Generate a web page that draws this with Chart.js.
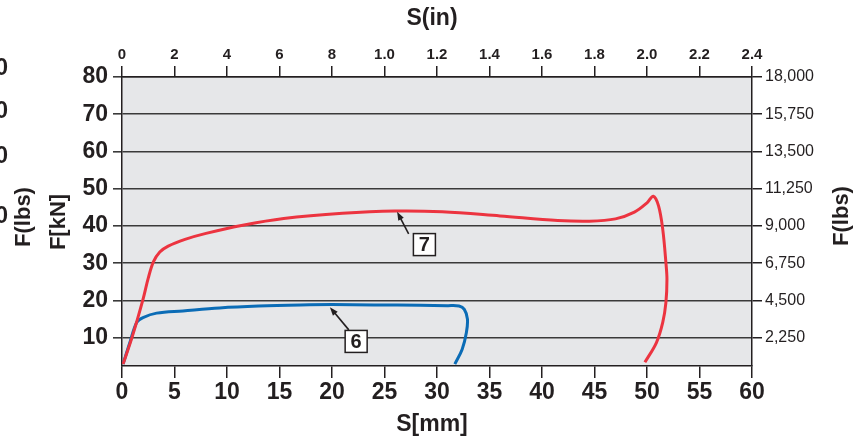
<!DOCTYPE html>
<html>
<head>
<meta charset="utf-8">
<script src="https://cdn.jsdelivr.net/npm/chart.js@4.4.1/dist/chart.umd.min.js"></script>
<style>
  html, body { margin: 0; padding: 0; background: #ffffff; }
  #wrap { width: 864px; height: 438px; position: relative; }
</style>
</head>
<body>
<div id="wrap"><canvas id="forceChart"></canvas></div>
<script>
// Curve 7 (red) - S[mm] vs F[kN]
const red7X = [0.1, 1.0, 2.0, 2.5, 3.0, 3.6, 4.4, 6.0, 8.0, 11.5, 15.4, 21.0, 26.0, 30.5, 36.0, 41.5, 44.5, 47.0, 48.8, 50.0, 50.6, 51.1, 51.5, 51.8, 51.9, 51.8, 51.5, 50.9, 49.8];
const red7Y = [2.9, 10.5, 20.3, 26.0, 30.4, 33.0, 34.6, 36.4, 38.0, 40.2, 42.0, 43.4, 44.0, 43.8, 42.7, 41.5, 41.3, 41.9, 43.7, 46.2, 48.0, 45.4, 39.1, 30.2, 25.7, 19.4, 14.1, 8.7, 3.4];

// Curve 6 (blue)
const blue6X = [0.1, 0.75, 1.4, 2.0, 3.3, 5.8, 9.3, 13.0, 17.0, 20.0, 24.0, 28.4, 31.0, 32.1, 32.6, 32.9, 32.8, 32.4, 31.7];
const blue6Y = [2.9, 8.7, 14.1, 15.4, 16.6, 17.2, 18.0, 18.5, 18.8, 18.9, 18.8, 18.7, 18.6, 18.5, 17.6, 15.0, 11.4, 6.9, 2.9];

// Axis ticks
const mmTicks = [0, 5, 10, 15, 20, 25, 30, 35, 40, 45, 50, 55, 60];
const inTicks = [0, 0.2, 0.4, 0.6, 0.8, 1.0, 1.2, 1.4, 1.6, 1.8, 2.0, 2.2, 2.4];
const inLabels = ['0', '2', '4', '6', '8', '1.0', '1.2', '1.4', '1.6', '1.8', '2.0', '2.2', '2.4'];
const kNTicks = [10, 20, 30, 40, 50, 60, 70, 80];
const lbsTicks = [2250, 4500, 6750, 9000, 11250, 13500, 15750, 18000];

const FONT = "'Liberation Sans Narrow', 'Liberation Sans', Arial, sans-serif";
const INK = '#231f20';
const yMin = 2.4, yMax = 80;

function toPoints(xs, ys) {
    return xs.map((x, i) => ({ x: x, y: ys[i] }));
}

// grey plot background
const plotBackground = {
    id: 'plotBackground',
    beforeDraw(chart) {
        const { ctx, chartArea: a } = chart;
        ctx.save();
        ctx.fillStyle = '#e6e7e9';
        ctx.fillRect(a.left, a.top, a.right - a.left, a.bottom - a.top);
        ctx.restore();
    }
};

// axis titles and the cut-off text at the left edge
const axisTitles = {
    id: 'axisTitles',
    afterDraw(chart) {
        const ctx = chart.ctx;
        ctx.save();
        ctx.fillStyle = INK;
        ctx.textAlign = 'center';
        ctx.textBaseline = 'middle';
        ctx.font = 'bold 23px ' + FONT;
        ctx.fillText('S(in)', 432, 19);
        ctx.fillText('S[mm]', 432, 425);

        function vertical(text, x, y, font) {
            ctx.save();
            ctx.translate(x, y);
            ctx.rotate(-Math.PI / 2);
            ctx.font = font;
            ctx.fillText(text, 0, 0);
            ctx.restore();
        }
        vertical('F[kN]', 59, 222, 'bold 22px ' + FONT);
        vertical('F(lbs)', 24, 217, 'bold 22px ' + FONT);
        vertical('F(lbs)', 842, 216, 'bold 22px ' + FONT);

        // leftovers of another axis, cropped at the picture edge
        ctx.textAlign = 'right';
        ctx.font = 'bold 23px ' + FONT;
        [69, 112, 157, 217].forEach(y => ctx.fillText('0', 8, y));
        ctx.restore();
    }
};

// numbered callouts with arrows
const callouts = {
    id: 'callouts',
    afterDatasetsDraw(chart) {
        const ctx = chart.ctx;
        const xs = chart.scales.x, ys = chart.scales.y;
        const items = [
            { label: '7', box: [28.8, 35.0], tail: [27.3, 37.9], tip: [26.2, 43.8] },
            { label: '6', box: [22.3, 9.0], tail: [21.6, 12.1], tip: [19.8, 18.2] }
        ];
        ctx.save();
        items.forEach(it => {
            const tx = xs.getPixelForValue(it.tail[0]), ty = ys.getPixelForValue(it.tail[1]);
            const px = xs.getPixelForValue(it.tip[0]), py = ys.getPixelForValue(it.tip[1]);
            const ang = Math.atan2(py - ty, px - tx);
            const head = 9;
            ctx.strokeStyle = INK;
            ctx.fillStyle = INK;
            ctx.lineWidth = 1.6;
            ctx.beginPath();
            ctx.moveTo(tx, ty);
            ctx.lineTo(px - Math.cos(ang) * head * 0.7, py - Math.sin(ang) * head * 0.7);
            ctx.stroke();
            ctx.beginPath();
            ctx.moveTo(px, py);
            ctx.lineTo(px - head * Math.cos(ang - 0.35), py - head * Math.sin(ang - 0.35));
            ctx.lineTo(px - head * Math.cos(ang + 0.35), py - head * Math.sin(ang + 0.35));
            ctx.closePath();
            ctx.fill();

            const bx = xs.getPixelForValue(it.box[0]), by = ys.getPixelForValue(it.box[1]);
            ctx.fillStyle = '#ffffff';
            ctx.fillRect(bx - 11, by - 11, 22, 22);
            ctx.lineWidth = 1.5;
            ctx.strokeRect(bx - 11, by - 11, 22, 22);
            ctx.fillStyle = INK;
            ctx.font = 'bold 20px ' + FONT;
            ctx.textAlign = 'center';
            ctx.textBaseline = 'middle';
            ctx.fillText(it.label, bx, by + 1);
        });
        ctx.restore();
    }
};

function fixedTicks(values) {
    return function (scale) {
        scale.ticks = values.map(v => ({ value: v }));
    };
}

const ctx = document.getElementById('forceChart').getContext('2d');
new Chart(ctx, {
    type: 'scatter',
    data: {
        datasets: [
            {
                label: '7',
                data: toPoints(red7X, red7Y),
                showLine: true,
                borderColor: '#ec3440',
                borderWidth: 3,
                pointRadius: 0,
                tension: 0.35,
                xAxisID: 'x',
                yAxisID: 'y'
            },
            {
                label: '6',
                data: toPoints(blue6X, blue6Y),
                showLine: true,
                borderColor: '#0b6cb6',
                borderWidth: 3,
                pointRadius: 0,
                tension: 0.35,
                xAxisID: 'x',
                yAxisID: 'y'
            }
        ]
    },
    options: {
        responsive: true,
        maintainAspectRatio: false,
        animation: false,
        layout: { padding: 0 },
        plugins: {
            legend: { display: false },
            tooltip: { enabled: false }
        },
        scales: {
            x: {
                type: 'linear',
                position: 'bottom',
                min: 0,
                max: 60,
                afterBuildTicks: fixedTicks(mmTicks),
                afterFit: s => { s.height = 72; },
                grid: { drawOnChartArea: false, color: INK, lineWidth: 1.5, tickLength: 12 },
                border: { color: INK, width: 1.5 },
                ticks: { color: INK, font: { family: FONT, size: 23, weight: 'bold' }, padding: 1, maxRotation: 0 }
            },
            x2: {
                type: 'linear',
                position: 'top',
                min: 0,
                max: 2.4,
                afterBuildTicks: fixedTicks(inTicks),
                afterFit: s => { s.height = 77; },
                grid: { drawOnChartArea: false, color: INK, lineWidth: 1.5, tickLength: 11 },
                border: { color: INK, width: 1.5 },
                ticks: {
                    color: INK,
                    font: { family: FONT, size: 15, weight: 'bold' },
                    padding: 2,
                    maxRotation: 0,
                    callback: (v, i) => inLabels[i]
                }
            },
            y: {
                type: 'linear',
                position: 'left',
                min: yMin,
                max: yMax,
                afterBuildTicks: fixedTicks(kNTicks),
                afterFit: s => { s.width = 122; },
                grid: { drawOnChartArea: true, color: '#3a3a3a', lineWidth: 1.6, tickLength: 9 },
                border: { color: INK, width: 1.5 },
                ticks: { color: INK, font: { family: FONT, size: 23, weight: 'bold' }, padding: 5 }
            },
            y2: {
                type: 'linear',
                position: 'right',
                min: yMin * 225,
                max: yMax * 225,
                afterBuildTicks: fixedTicks(lbsTicks),
                afterFit: s => { s.width = 112; },
                grid: { drawOnChartArea: false, color: INK, lineWidth: 1.5, tickLength: 10 },
                border: { color: INK, width: 1.5 },
                ticks: {
                    color: INK,
                    font: { family: FONT, size: 16 },
                    padding: 3,
                    callback: v => Number(v).toLocaleString('en-US')
                }
            }
        }
    },
    plugins: [plotBackground, axisTitles, callouts]
});
</script>
</body>
</html>
